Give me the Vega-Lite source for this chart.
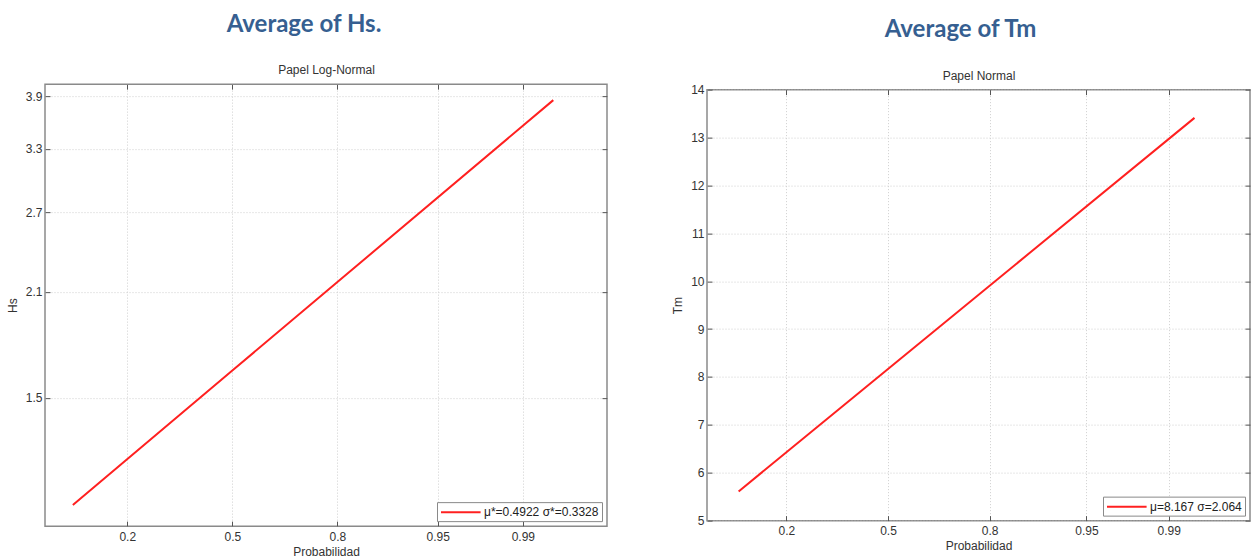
{
  "$schema": "https://vega.github.io/schema/vega-lite/v6.json",
  "background": "white",
  "padding": {"left": 5, "top": 11, "right": 0, "bottom": 0},
  "spacing": 61,
  "center": true,
  "config": {
    "font": "Liberation Sans",
    "view": {"stroke": "#8a8a8a", "strokeWidth": 1.5},
    "title": {"font": "Lato", "fontSize": 24, "fontWeight": "bold", "color": "#365F91", "anchor": "middle", "dx": -22, "offset": 27},
    "axis": {
      "labelFont": "Liberation Sans", "labelFontSize": 12, "labelColor": "#333333",
      "titleFont": "Liberation Sans", "titleFontSize": 12, "titleFontWeight": "normal", "titleColor": "#333333",
      "domain": false, "tickColor": "#555555", "tickSize": -5, "tickWidth": 1,
      "gridColor": "#cfcfcf", "gridDash": [1, 2], "gridWidth": 1
    },
    "axisX": {"labelPadding": 10, "titlePadding": 4},
    "axisY": {"labelPadding": 8, "titlePadding": 6},
    "legend": {
      "orient": "bottom-right", "offset": 5, "padding": 3, "strokeColor": "#8a8a8a", "fillColor": "white",
      "symbolType": "M-1,0H5.6", "symbolSize": 144, "symbolStrokeWidth": 2, "labelFont": "Liberation Sans", "labelFontSize": 12, "labelColor": "#222222", "title": null, "labelOffset": 30
    }
  },
  "hconcat": [
    {
      "width": 562,
      "height": 442,
      "title": {"text": "Average of Hs."},
      "data": {"values": [
        {"z": -1.277, "Hs": 1.069, "label": "μ*=0.4922 σ*=0.3328"},
        {"z": 0.0, "Hs": 1.636, "label": "μ*=0.4922 σ*=0.3328"},
        {"z": 2.570, "Hs": 3.85, "label": "μ*=0.4922 σ*=0.3328"}
      ]},
      "layer": [
        {
          "mark": {"type": "line", "strokeWidth": 2},
          "encoding": {
            "x": {"field": "z", "type": "quantitative", "scale": {"domain": [-1.5, 3.0], "nice": false, "zero": false},
              "axis": {"orient": "bottom", "title": "Probabilidad", "values": [-0.8416, 0, 0.8416, 1.6449, 2.3263],
                "labelExpr": "datum.value < -0.4 ? '0.2' : datum.value < 0.4 ? '0.5' : datum.value < 1.2 ? '0.8' : datum.value < 2 ? '0.95' : '0.99'"}},
            "y": {"field": "Hs", "type": "quantitative", "scale": {"type": "log", "domain": [1, 4.05], "nice": false, "zero": false},
              "axis": {"orient": "left", "title": "Hs", "values": [1.5, 2.1, 2.7, 3.3, 3.9], "format": ".1f"}},
            "color": {"field": "label", "type": "nominal", "scale": {"range": ["#ff2020"]}}
          }
        },
        {
          "mark": {"type": "line", "opacity": 0},
          "encoding": {
            "x": {"field": "z", "type": "quantitative", "scale": {"domain": [-1.5, 3.0], "nice": false, "zero": false},
              "axis": {"orient": "top", "title": "Papel Log-Normal", "titlePadding": 7, "labels": false, "grid": false, "values": [-0.8416, 0, 0.8416, 1.6449, 2.3263]}},
            "y": {"field": "Hs", "type": "quantitative", "scale": {"type": "log", "domain": [1, 4.05], "nice": false, "zero": false},
              "axis": {"orient": "right", "title": null, "labels": false, "grid": false, "values": [1.5, 2.1, 2.7, 3.3, 3.9]}}
          }
        }
      ],
      "resolve": {"axis": {"x": "independent", "y": "independent"}}
    },
    {
      "width": 543,
      "height": 431,
      "title": {"text": "Average of Tm", "dx": -18},
      "data": {"values": [
        {"z": -1.238, "Tm": 5.61, "label": "μ=8.167 σ=2.064"},
        {"z": 0.0, "Tm": 8.167, "label": "μ=8.167 σ=2.064"},
        {"z": 2.54, "Tm": 13.41, "label": "μ=8.167 σ=2.064"}
      ]},
      "layer": [
        {
          "mark": {"type": "line", "strokeWidth": 2},
          "encoding": {
            "x": {"field": "z", "type": "quantitative", "scale": {"domain": [-1.5, 3.0], "nice": false, "zero": false},
              "axis": {"orient": "bottom", "title": "Probabilidad", "values": [-0.8416, 0, 0.8416, 1.6449, 2.3263],
                "labelExpr": "datum.value < -0.4 ? '0.2' : datum.value < 0.4 ? '0.5' : datum.value < 1.2 ? '0.8' : datum.value < 2 ? '0.95' : '0.99'"}},
            "y": {"field": "Tm", "type": "quantitative", "scale": {"domain": [5, 14], "nice": false, "zero": false},
              "axis": {"orient": "left", "title": "Tm", "values": [5, 6, 7, 8, 9, 10, 11, 12, 13, 14]}},
            "color": {"field": "label", "type": "nominal", "scale": {"range": ["#ff2020"]}}
          }
        },
        {
          "mark": {"type": "line", "opacity": 0},
          "encoding": {
            "x": {"field": "z", "type": "quantitative", "scale": {"domain": [-1.5, 3.0], "nice": false, "zero": false},
              "axis": {"orient": "top", "title": "Papel Normal", "titlePadding": 7, "labels": false, "grid": false, "values": [-0.8416, 0, 0.8416, 1.6449, 2.3263]}},
            "y": {"field": "Tm", "type": "quantitative", "scale": {"domain": [5, 14], "nice": false, "zero": false},
              "axis": {"orient": "right", "title": null, "labels": false, "grid": false, "values": [5, 6, 7, 8, 9, 10, 11, 12, 13, 14]}}
          }
        }
      ],
      "resolve": {"axis": {"x": "independent", "y": "independent"}}
    }
  ],
  "resolve": {"scale": {"color": "independent"}, "legend": {"color": "independent"}}
}
